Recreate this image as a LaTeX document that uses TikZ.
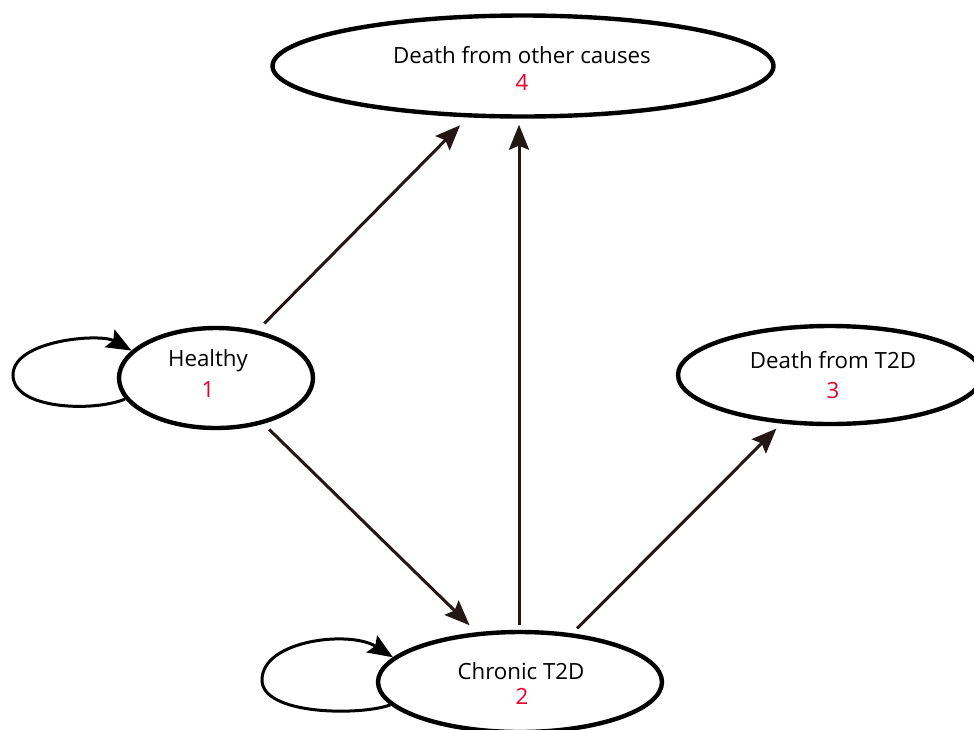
\documentclass[tikz,border=0pt]{standalone}
\usepackage{fontspec}
\setmainfont{Open Sans}
\usetikzlibrary{shapes.geometric,arrows.meta}
\definecolor{arrowc}{HTML}{231815}
\definecolor{numred}{HTML}{E6002D}
\tikzset{
  state/.style={ellipse, draw=black, line width=4.4pt, inner sep=0pt, fill=white},
  lbl/.style={anchor=base, inner sep=0pt, font=\fontsize{22.3}{30}\selectfont},
  num/.style={lbl, text=numred},
  conn/.style={draw=arrowc, line width=3pt, -{Stealth[length=25pt,width=20pt,inset=4pt]}},
  loopc/.style={draw=black, line width=3pt, -{Stealth[length=25pt,width=20pt,inset=4pt]}}
}
\begin{document}
\begin{tikzpicture}[x=1pt,y=-1pt]
\useasboundingbox (0,0) rectangle (974,729);
\clip (0,0) rectangle (974,729);
\node[state, minimum width=501pt, minimum height=101pt] (d4) at (523,66) {};
\node[state, minimum width=194pt, minimum height=100pt] (h) at (216,378) {};
\node[state, minimum width=304pt, minimum height=98pt] (d3) at (830,375) {};
\node[state, minimum width=284pt, minimum height=100pt] (c) at (520,682) {};
% labels
\node[lbl] (d4t) at (522,63) {Death from other causes};
\node[num] (d4n) at (522,90) {4};
\node[lbl] (ht) at (208,366.5) {Healthy};
\node[num] (hn) at (208,397) {1};
\node[lbl] (d3t) at (833,368) {Death from T2D};
\node[num] (d3n) at (833,398) {3};
\node[lbl] (ct) at (521,679) {Chronic T2D};
\node[num] (cn) at (522,704) {2};
% transitions
\draw[conn, shorten <=10pt, shorten >=11pt] (h.49.7) -- (d4.223.9);
\draw[conn, shorten <=8pt, shorten >=10pt] (h.-44.4) -- (c.131.9);
\draw[conn, shorten <=5pt, shorten >=6pt] ([xshift=-1pt]c.north) -- ([xshift=-1pt]c.north |- d4.south);
\draw[conn, shorten <=7pt, shorten >=7pt] (c.43.8) -- (d3.225.6);
% self loops
\draw[loopc] (h.193.6) .. controls (95,412) and (13,410) .. (13,375)
  .. controls (13,340) and (100,333) .. (h.162.9);
\draw[loopc] (c.190) .. controls (360,716) and (262,715) .. (262,680)
  .. controls (262,640) and (350,630) .. (c.169);
\end{tikzpicture}
\end{document}
